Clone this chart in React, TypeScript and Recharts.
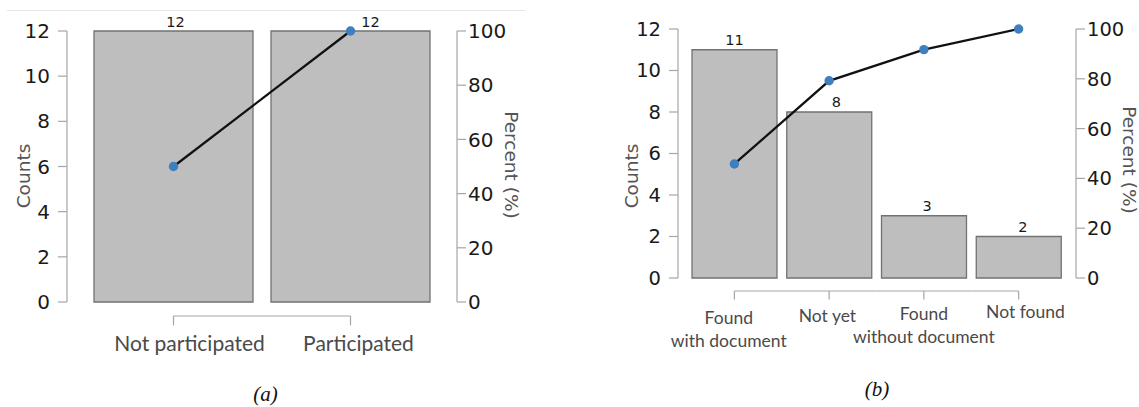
import React from "react";
import { Bar, ComposedChart, LabelList, Line, XAxis, YAxis } from "recharts";

// ─── Data ────────────────────────────────────────────────────

const participationCats = ["Not participated", "Participated"];
const participationCounts = [12, 12];
const participationPct = [50, 100];

const documentCats = ["Found\nwith document", "Not yet", "Found\nwithout document", "Not found"];
const documentCounts = [11, 8, 3, 2];
const documentPct = [45.8, 79.2, 91.7, 100];

const countTicks = [0, 2, 4, 6, 8, 10, 12];
const pctTicks = [0, 20, 40, 60, 80, 100];

// ─── Styles ──────────────────────────────────────────────────

const axisGray = "#a6a6a6";
const barFill = "#bebebe";
const barStroke = "#727272";
const dotBlue = "#3f7fbd";
const numFont = "'DejaVu Sans', sans-serif";
const catFont = "Lato, sans-serif";

function CatTick(props: any) {
  const { x, y, payload, index, visibleTicksCount, half, lineDy, tickDy, textDy, lineH, fontSize, dxs, dys } = props;
  const lines = String(payload.value).split("\n");
  const x1 = index > 0 ? x - half : x;
  const x2 = index < visibleTicksCount - 1 ? x + half : x;
  const tx = x + (dxs[index] || 0);
  return (
    <g>
      <line x1={x1} x2={x2} y1={y + lineDy} y2={y + lineDy} stroke={axisGray} strokeWidth={1.2} />
      <line x1={x} x2={x} y1={y + lineDy} y2={y + tickDy} stroke={axisGray} strokeWidth={1.2} />
      <text x={tx} y={y + textDy + (dys[index] || 0)} textAnchor="middle" fill="#4a4a4a" fontSize={fontSize} fontFamily={catFont}>
        {lines.map((l, i) => (
          <tspan key={i} x={tx} dy={i === 0 ? 0 : lineH}>
            {l}
          </tspan>
        ))}
      </text>
    </g>
  );
}

interface PanelProps {
  cats: string[];
  counts: number[];
  pct: number[];
  width: number;
  margin: { top: number; right: number; bottom: number; left: number };
  xHeight: number;
  pad: { left: number; right: number };
  half: number;
  gap: number;
  tickFont: number;
  catFontSize: number;
  lineDy: number;
  tickDy: number;
  textDy: number;
  lineH: number;
  tickDx: number[];
  tickDyList: number[];
  labelShift: number[];
  labelLift: number;
}

function ParetoPanel(p: PanelProps) {
  const data = p.cats.map((c, i) => ({ cat: c, count: p.counts[i], pct: p.pct[i] }));
  return (
    <ComposedChart width={p.width} height={407} data={data} margin={p.margin} barCategoryGap={p.gap}>
      <XAxis
        dataKey="cat"
        height={p.xHeight}
        padding={p.pad}
        axisLine={false}
        tickLine={false}
        tickSize={0}
        tickMargin={0}
        interval={0}
        tick={
          <CatTick
            half={p.half}
            lineDy={p.lineDy}
            tickDy={p.tickDy}
            textDy={p.textDy}
            lineH={p.lineH}
            fontSize={p.catFontSize}
            dxs={p.tickDx}
            dys={p.tickDyList}
          />
        }
      />
      <YAxis
        yAxisId="left"
        width={67}
        domain={[0, 12]}
        ticks={countTicks}
        axisLine={{ stroke: axisGray, strokeWidth: 1.2 }}
        tickLine={{ stroke: axisGray, strokeWidth: 1.2 }}
        tickSize={9}
        tickMargin={8}
        tick={{ fill: "#1a1a1a", fontSize: p.tickFont, fontFamily: numFont }}
      />
      <YAxis
        yAxisId="right"
        orientation="right"
        width={60}
        domain={[0, 100]}
        ticks={pctTicks}
        axisLine={{ stroke: axisGray, strokeWidth: 1.2 }}
        tickLine={{ stroke: axisGray, strokeWidth: 1.2 }}
        tickSize={9}
        tickMargin={2}
        tick={{ fill: "#1a1a1a", fontSize: p.tickFont, fontFamily: numFont }}
      />
      <Bar
        yAxisId="left"
        dataKey="count"
        fill={barFill}
        stroke={barStroke}
        strokeWidth={1.3}
        isAnimationActive={false}
      >
        <LabelList
          dataKey="count"
          content={(lp: any) => (
            <text
              x={lp.x + lp.width / 2 + (p.labelShift[lp.index] || 0)}
              y={lp.y - p.labelLift}
              textAnchor="middle"
              fill="#1a1a1a"
              fontSize={14.5}
              fontFamily={numFont}
            >
              {lp.value}
            </text>
          )}
        />
      </Bar>
      <Line
        yAxisId="right"
        dataKey="pct"
        stroke="#111"
        strokeWidth={2.3}
        dot={{ r: 4.7, fill: dotBlue, stroke: "none" }}
        isAnimationActive={false}
      />
    </ComposedChart>
  );
}

function Rotated({ text, x, y, angle, size }: { text: string; x: number; y: number; angle: number; size: number }) {
  return (
    <div
      style={{
        position: "absolute",
        left: x,
        top: y,
        transform: `translate(-50%, -50%) rotate(${angle}deg)`,
        whiteSpace: "nowrap",
        fontFamily: numFont,
        fontSize: size,
        color: "#555",
        lineHeight: 1,
      }}
    >
      {text}
    </div>
  );
}

function Caption({ text, x, y }: { text: string; x: number; y: number }) {
  return (
    <div
      style={{
        position: "absolute",
        left: x,
        top: y,
        transform: "translate(-50%, -50%)",
        fontFamily: "'Liberation Serif', serif",
        fontStyle: "italic",
        fontSize: 21,
        color: "#111",
        lineHeight: 1,
      }}
    >
      {text}
    </div>
  );
}

export default function App() {
  return (
    <div style={{ position: "relative", width: 1139, height: 407, background: "#fff", overflow: "hidden" }}>
      <style>{"body{margin:0}"}</style>
      <div style={{ position: "absolute", left: 7, top: 10, width: 518, height: 1, background: "#e6e6e6" }} />
      <div style={{ position: "absolute", left: 0, top: 0 }}>
        <ParetoPanel
          cats={participationCats}
          counts={participationCounts}
          pct={participationPct}
          width={560}
          margin={{ top: 31, right: 43, bottom: 0, left: 0 }}
          xHeight={105}
          pad={{ left: 18, right: 18 }}
          half={88.6}
          gap={9}
          tickFont={20}
          catFontSize={21}
          lineDy={14}
          tickDy={23.5}
          textDy={48.5}
          lineH={23}
          tickDx={[16, 8]}
          tickDyList={[0, 0]}
          labelShift={[2, 20]}
          labelLift={4}
        />
      </div>
      <div style={{ position: "absolute", left: 580, top: 0 }}>
        <ParetoPanel
          cats={documentCats}
          counts={documentCounts}
          pct={documentPct}
          width={559}
          margin={{ top: 29, right: 3, bottom: 0, left: 31 }}
          xHeight={129}
          pad={{ left: 9, right: 10 }}
          half={47.3}
          gap={5}
          tickFont={19.5}
          catFontSize={17.5}
          lineDy={13}
          tickDy={21.5}
          textDy={46}
          lineH={22.7}
          tickDx={[-5.6, -1.7, 0, 6.8]}
          tickDyList={[0, -2.3, -4, -5.7]}
          labelShift={[0, 7, 3, 4]}
          labelLift={5}
        />
      </div>
      <Rotated text="Counts" x={24} y={176} angle={-90} size={18.5} />
      <Rotated text="Percent (%)" x={511} y={165} angle={90} size={18.5} />
      <Rotated text="Counts" x={632} y={176} angle={-90} size={18.5} />
      <Rotated text="Percent (%)" x={1129} y={160} angle={90} size={18.5} />
      <Caption text="(a)" x={265.5} y={394} />
      <Caption text="(b)" x={877} y={389} />
    </div>
  );
}
